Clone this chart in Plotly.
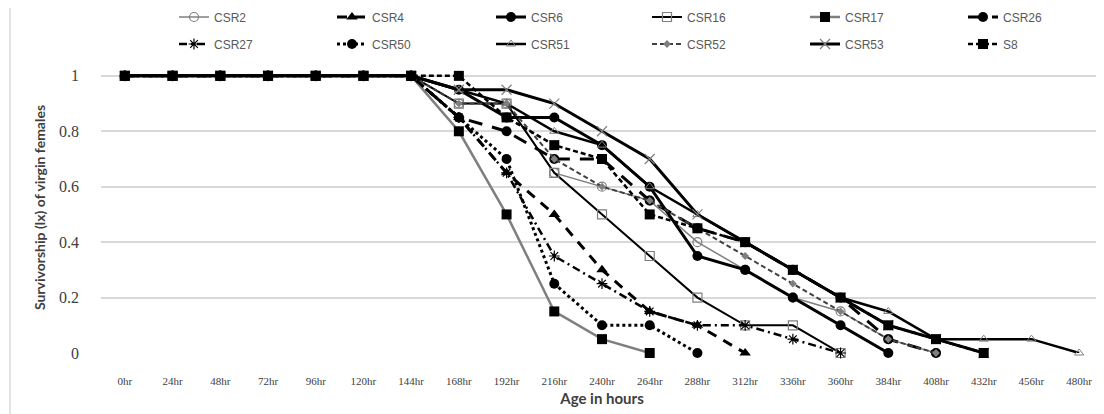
import plotly.graph_objects as go

hours = ["0hr", "24hr", "48hr", "72hr", "96hr", "120hr", "144hr", "168hr", "192hr", "216hr",
         "240hr", "264hr", "288hr", "312hr", "336hr", "360hr", "384hr", "408hr", "432hr", "456hr", "480hr"]

ones = [1, 1, 1, 1, 1, 1, 1]
CSR2 = ones + [0.9, 0.9, 0.65, 0.6, 0.55, 0.4, 0.3, 0.2, 0.15, 0.05, 0]
CSR4 = ones + [0.85, 0.65, 0.5, 0.3, 0.15, 0.1, 0]
CSR6 = ones + [0.95, 0.85, 0.85, 0.75, 0.6, 0.35, 0.3, 0.2, 0.1, 0]
CSR16 = ones + [0.9, 0.9, 0.65, 0.5, 0.35, 0.2, 0.1, 0.1, 0]
CSR17 = ones + [0.8, 0.5, 0.15, 0.05, 0]
CSR26 = ones + [0.85, 0.8, 0.7, 0.7, 0.55, 0.45, 0.4, 0.3, 0.2, 0.05, 0]
CSR27 = ones + [0.85, 0.65, 0.35, 0.25, 0.15, 0.1, 0.1, 0.05, 0]
CSR50 = ones + [0.85, 0.7, 0.25, 0.1, 0.1, 0]
CSR51 = ones + [0.95, 0.9, 0.8, 0.75, 0.6, 0.5, 0.4, 0.3, 0.2, 0.15, 0.05, 0.05, 0.05, 0]
CSR52 = ones + [0.9, 0.9, 0.7, 0.6, 0.55, 0.45, 0.35, 0.25, 0.15, 0.05, 0]
CSR53 = ones + [0.95, 0.95, 0.9, 0.8, 0.7, 0.5, 0.4, 0.3, 0.2, 0.1, 0.05, 0]
S8 = ones + [1, 0.85, 0.75, 0.7, 0.5, 0.45, 0.4, 0.3, 0.2, 0.1, 0.05, 0]

y_ticks = [0, 0.2, 0.4, 0.6, 0.8, 1]
y_tick_text = ["0", "0.2", "0.4", "0.6", "0.8", "1"]

series = [
    ("CSR2", CSR2, dict(color="#7f7f7f", width=1.5, dash="solid"), dict(symbol="circle-open", size=9, color="#7f7f7f", line=dict(width=1.2, color="#7f7f7f"))),
    ("CSR4", CSR4, dict(color="black", width=3, dash="10px,8px"), dict(symbol="triangle-up", size=10, color="black")),
    ("CSR6", CSR6, dict(color="black", width=3, dash="solid"), dict(symbol="circle", size=10, color="black")),
    ("CSR16", CSR16, dict(color="black", width=2, dash="solid"), dict(symbol="square-open", size=9, color="#7f7f7f", line=dict(width=1.2, color="#7f7f7f"))),
    ("CSR17", CSR17, dict(color="#7f7f7f", width=2.5, dash="solid"), dict(symbol="square", size=10, color="black")),
    ("CSR26", CSR26, dict(color="black", width=3, dash="14px,10px"), dict(symbol="circle", size=10, color="black")),
    ("CSR27", CSR27, dict(color="black", width=2.5, dash="8px,4px,2px,4px"), dict(symbol="asterisk-open", size=9, color="black", line=dict(width=1.2, color="black"))),
    ("CSR50", CSR50, dict(color="black", width=3, dash="dot"), dict(symbol="circle", size=10, color="black")),
    ("CSR51", CSR51, dict(color="black", width=2.5, dash="solid"), dict(symbol="triangle-up-open", size=8, color="#7f7f7f", line=dict(width=1, color="#7f7f7f"))),
    ("CSR52", CSR52, dict(color="#404040", width=2, dash="5px,3px"), dict(symbol="diamond", size=6, color="#7f7f7f")),
    ("CSR53", CSR53, dict(color="black", width=3, dash="solid"), dict(symbol="x-thin-open", size=10, color="#7f7f7f", line=dict(width=1.2, color="#7f7f7f"))),
    ("S8", S8, dict(color="black", width=2.5, dash="5px,3px"), dict(symbol="square", size=10, color="black")),
]

# page body has an 8px margin; positions below are in window pixels
OFF = 8
W, H = 1104, 414
plot_left_win, plot_right_win = 101, 1103
plot_top_win, plot_bottom_win = 62, 353
m_l = plot_left_win - OFF
m_r = W - (plot_right_win - OFF)
m_t = plot_top_win - OFF
m_b = H - (plot_bottom_win - OFF)
pw = plot_right_win - plot_left_win
ph = plot_bottom_win - plot_top_win


def ypaper(py):
    return (plot_bottom_win - py) / ph


def xpaper(px):
    return (px - plot_left_win) / pw


legend_cols = [174, 332, 491, 647, 805, 963]
legend_rows = [17, 44]

fig = go.Figure()
legend_layouts = {}
for i, (name, vals, line, marker) in enumerate(series):
    key = "legend" if i == 0 else f"legend{i + 1}"
    fig.add_trace(go.Scatter(
        x=hours[:len(vals)], y=vals, name=name, mode="lines+markers",
        line=line, marker=marker, legend=key, cliponaxis=False,
    ))
    legend_layouts[key] = dict(
        x=xpaper(legend_cols[i % 6]), y=ypaper(legend_rows[i // 6]),
        xanchor="left", yanchor="middle", orientation="h",
        font=dict(family="Liberation Sans", size=12, color="#595959"),
        bgcolor="rgba(0,0,0,0)", itemclick=False,
    )

fig.update_layout(
    width=W, height=H,
    margin=dict(l=m_l, r=m_r, t=m_t, b=m_b, autoexpand=False),
    paper_bgcolor="white", plot_bgcolor="white",
    xaxis=dict(
        type="category", categoryorder="array", categoryarray=hours,
        range=[-0.5, len(hours) - 0.5], showgrid=False, showline=False, zeroline=False,
        ticks="", tickfont=dict(family="Liberation Serif", size=11, color="#404040"),
        ticklabelstandoff=20,
        title=dict(text="<b>Age in hours</b>", font=dict(family="Lato", size=15, color="#404040"), standoff=7),
    ),
    yaxis=dict(
        range=[0, 1.05], tickvals=y_ticks, ticktext=y_tick_text,
        showgrid=True, gridcolor="#d9d9d9", gridwidth=1.5, zeroline=False, showline=False,
        ticks="", tickfont=dict(family="Liberation Serif", size=16, color="#404040"),
        ticklabelstandoff=21,
        title=dict(text="<b>Survivorship (lx) of virgin females</b>", font=dict(family="Lato", size=14, color="#404040"), standoff=10),
    ),
    showlegend=True,
    **legend_layouts,
)

fig.add_shape(type="rect", xref="paper", yref="paper",
              x0=xpaper(10), x1=xpaper(1112), y0=ypaper(420), y1=ypaper(6),
              line=dict(color="#d9d9d9", width=1.5), fillcolor="rgba(0,0,0,0)", layer="below")

fig.write_html("out.html")
